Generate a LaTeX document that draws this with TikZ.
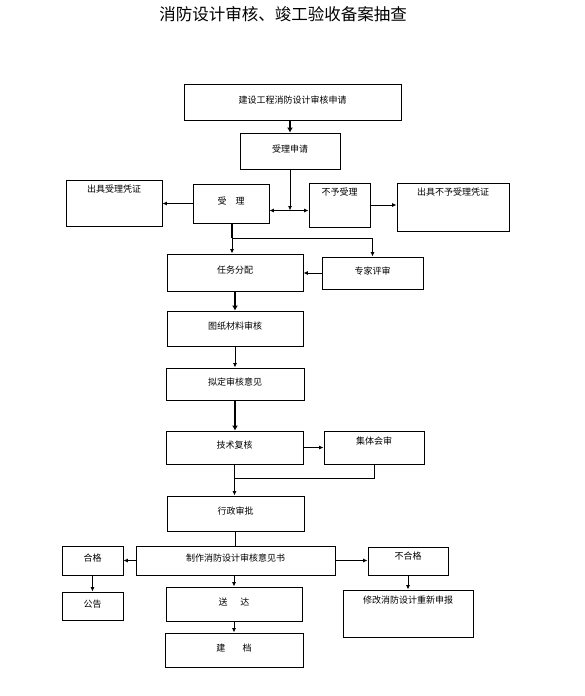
\documentclass[tikz,border=0pt]{standalone}
\usepackage{fontspec}
\setmainfont{Noto Sans CJK SC}
\usetikzlibrary{arrows.meta}
\begin{document}
\begin{tikzpicture}[x=1pt,y=-1pt,
  box/.style={draw, line width=0.9pt, inner sep=0pt, font=\fontsize{9}{10}\selectfont, text height=6pt, text depth=4pt},
  txt/.style={inner sep=0pt, font=\fontsize{9}{10}\selectfont},
  arr/.style={line width=0.9pt, -{Latex[length=4.5pt,width=4pt]}},
  arrb/.style={line width=0.9pt, {Latex[length=4.5pt,width=4pt]}-{Latex[length=4.5pt,width=4pt]}},
  thk/.style={line width=2.2pt, -{Latex[length=5pt,width=6pt]}},
  thkline/.style={line width=2.2pt},
  ln/.style={line width=0.9pt}]
\useasboundingbox (0,0) rectangle (584,696);
\node[font=\fontsize{16.5}{18}\selectfont] (title) at (283,14) {消防设计审核、竣工验收备案抽查};

\node[box, minimum width=217pt, minimum height=36pt] (b1) at (292.5,102) {建设工程消防设计审核申请};
\node[box, minimum width=100pt, minimum height=36pt] (b2) at (290,151) {受理申请};
\node[box, minimum width=76pt, minimum height=39pt] (b3) at (231,203.5) {受\hspace{1em}理};
\node[box, minimum width=61pt, minimum height=44pt] (b4) at (339.5,205) {};
\node[txt] (b4t) at ([yshift=-10pt]b4.north) {不予受理};
\node[box, minimum width=96pt, minimum height=46pt] (b5) at (114,203) {};
\node[txt] (b5t) at ([yshift=-10pt]b5.north) {出具受理凭证};
\node[box, minimum width=112pt, minimum height=48pt] (b6) at (453,207) {};
\node[txt] (b6t) at ([yshift=-10pt]b6.north) {出具不予受理凭证};
\node[box, minimum width=136pt, minimum height=37pt] (b7) at (235,272.5) {任务分配};
\node[box, minimum width=101pt, minimum height=32pt] (b8) at (372.5,273) {专家评审};
\node[box, minimum width=136pt, minimum height=35pt] (b9) at (235,328.5) {图纸材料审核};
\node[box, minimum width=138pt, minimum height=32pt] (b10) at (235,384) {拟定审核意见};
\node[box, minimum width=137pt, minimum height=33pt] (b11) at (234.5,447.5) {技术复核};
\node[box, minimum width=100pt, minimum height=33pt] (b12) at (374,447.5) {};
\node[txt] (b12t) at ([yshift=-10pt]b12.north) {集体会审};
\node[box, minimum width=137pt, minimum height=35pt] (b13) at (235.5,513.5) {行政审批};
\node[box, minimum width=199pt, minimum height=29pt] (b14) at (235.5,560.5) {制作消防设计审核意见书};
\node[box, minimum width=61pt, minimum height=29pt] (b15) at (92.5,560.5) {合格};
\node[box, minimum width=80pt, minimum height=28pt] (b16) at (408,561) {};
\node[txt] (b16t) at ([yshift=-10pt]b16.north) {不合格};
\node[box, minimum width=61pt, minimum height=28pt] (b17) at (92.5,606) {公告};
\node[box, minimum width=136pt, minimum height=34pt] (b18) at (234,604) {送\hspace{1.4em}达};
\node[box, minimum width=130pt, minimum height=47pt] (b19) at (408,613.5) {};
\node[txt] (b19t) at ([yshift=-11pt]b19.north) {修改消防设计重新申报};
\node[box, minimum width=138pt, minimum height=34pt] (b20) at (234,650) {建\hspace{1.9em}档};

\coordinate (j1) at (290,210.5);
\coordinate (j2) at (232,238.3);
\coordinate (j3) at (234.5,478);

\draw[thk] (b1.south -| b2.north) -- (b2.north);
\draw[arr] (b2.south) -- (j1);
\draw[arrb] (b3.east |- j1) -- (b4.west |- j1);
\draw[arr] (b3.west) -- (b5.east |- b3.west);
\draw[arr] (b4.east) -- (b6.west |- b4.east);
\draw[thkline] (b3.south -| j2) -- (j2);
\draw[arr] (j2) -- (j2 |- b7.north);
\draw[arr] (j2) -| (b8.north);
\draw[arr] (b8.west) -- (b7.east |- b8.west);
\draw[thk] (b7.south) -- (b9.north);
\draw[arr] (b9.south) -- (b10.north);
\draw[thk] (b10.south) -- (b11.north -| b10.south);
\draw[arr] (b11.east) -- (b12.west);
\draw[ln] (b11.south) -- (j3);
\draw[ln] (b12.south) |- (j3);
\draw[arr] (j3) -- (j3 |- b13.north);
\draw[ln] (b13.south) -- (b14.north);
\draw[arr] (b14.west) -- (b15.east);
\draw[arr] (b14.east) -- (b16.west |- b14.east);
\draw[arr] (b15.south) -- (b17.north);
\draw[arr] (b14.south -| b18.north) -- (b18.north);
\draw[arr] (b16.south) -- (b19.north);
\draw[arr] (b18.south) -- (b20.north);
\end{tikzpicture}
\end{document}
